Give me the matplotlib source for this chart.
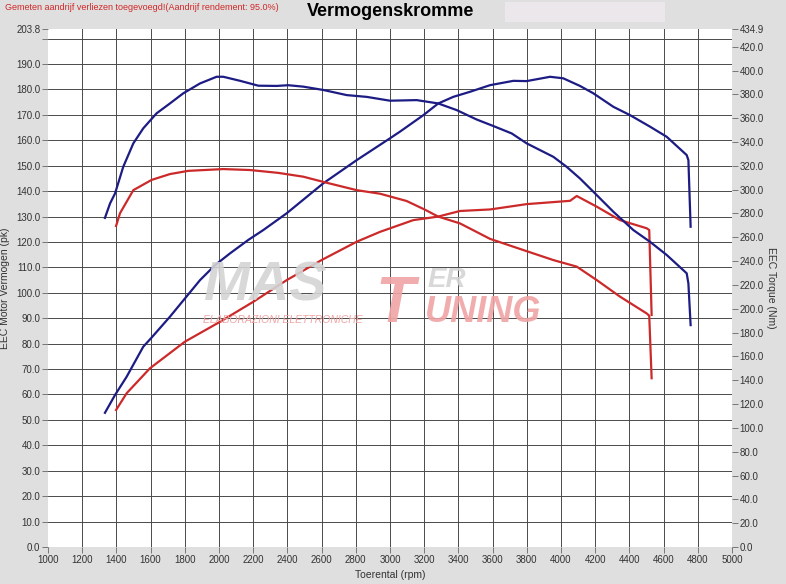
import matplotlib
matplotlib.use("Agg")
import matplotlib.pyplot as plt
from matplotlib.patches import Rectangle

plt.rcParams['font.family'] = ['Liberation Sans', 'DejaVu Sans']

# ---- data ----
rpm_power_tuned = [1333, 1392, 1460, 1557, 1602, 1713, 1801, 1889, 1977, 2064, 2171, 2259,
                   2396, 2610, 2805, 3000, 3058, 3195, 3282, 3370, 3468, 3585, 3721, 3799,
                   3936, 4013, 4111, 4189, 4306, 4404, 4520, 4618, 4735, 4745, 4758]
power_tuned = [52.8, 59.8, 67.0, 78.8, 82.1, 90.6, 97.8, 105.0, 110.9, 115.5, 120.8, 124.7,
               131.3, 143.1, 152.2, 160.8, 163.4, 169.9, 174.5, 177.1, 179.1, 181.7, 183.4, 183.3,
               185.0, 184.4, 181.4, 178.5, 173.2, 169.9, 165.4, 161.4, 154.2, 152.2, 126.0]

rpm_torque_tuned = [1333, 1363, 1392, 1440, 1499, 1557, 1635, 1713, 1791, 1889, 1986, 2025,
                    2123, 2230, 2337, 2405, 2493, 2610, 2747, 2864, 3000, 3156, 3282, 3390,
                    3507, 3605, 3712, 3799, 3955, 4033, 4111, 4189, 4306, 4423, 4520, 4618,
                    4735, 4745, 4758]
torque_tuned = [276.3, 288.5, 296.8, 319.2, 338.9, 351.5, 364.1, 372.4, 380.9, 389.2, 394.8, 394.8,
                391.4, 387.3, 387.1, 387.7, 386.5, 383.7, 379.4, 377.9, 374.7, 375.2, 372.4, 366.8,
                358.9, 353.4, 347.2, 338.9, 327.6, 319.2, 309.4, 298.3, 281.5, 266.1, 256.3, 245.2,
                229.8, 221.3, 186.3]

rpm_power_stock = [1398, 1460, 1596, 1801, 2006, 2201, 2396, 2600, 2805, 2942, 3136, 3282,
                   3409, 3585, 3799, 4053, 4092, 4209, 4345, 4501, 4516, 4530]
power_stock = [53.9, 60.5, 70.3, 80.8, 88.6, 96.5, 105.0, 112.9, 120.1, 124.0, 128.6, 130.0,
               132.2, 132.8, 134.9, 136.2, 138.1, 133.9, 128.6, 125.4, 124.7, 91.3]

rpm_torque_stock = [1398, 1421, 1499, 1606, 1713, 1820, 2025, 2181, 2347, 2493, 2630, 2805,
                    2942, 3097, 3200, 3282, 3409, 3585, 3780, 3955, 4092, 4209, 4345, 4501,
                    4516, 4530]
torque_stock = [269.5, 280.2, 299.6, 308.2, 313.1, 315.8, 317.3, 316.5, 314.1, 310.9, 305.8, 299.6,
                296.6, 290.5, 283.5, 277.4, 271.7, 258.7, 249.3, 240.9, 235.4, 224.1, 210.2, 196.1,
                194.2, 141.7]

x_ticks = list(range(1000, 5001, 200))
left_ticks = [v * 10 for v in range(0, 21)] + [203.8]
right_ticks = [v * 20 for v in range(0, 22)] + [434.9]

BLUE = '#1c1c84'
RED = '#cc2a2a'
BG = '#dfdfdf'
GRID = '#4a4a4a'
TXT = '#333333'

fig = plt.figure(figsize=(7.86, 5.84), dpi=100, facecolor=BG)
ax = fig.add_axes([48 / 786, 37 / 584, 684 / 786, 518 / 584])
ax.set_facecolor('white')
ax.set_xlim(1000, 5000)
ax.set_ylim(0, 203.8)
for s in ax.spines.values():
    s.set_visible(False)

# grid lines (interior only)
for v in range(10, 201, 10):
    ax.axhline(v, color=GRID, lw=0.7, zorder=1)
for x in range(1200, 4801, 200):
    ax.axvline(x, color=GRID, lw=0.7, zorder=1)

ax.set_xticks(x_ticks)
ax.set_xticklabels([str(x) for x in x_ticks])
ax.set_yticks(left_ticks)
ax.set_yticklabels(['' if v == 200 else f'{v:.1f}' for v in left_ticks])
ax.tick_params(axis='both', direction='out', length=4, width=0.6, color='#666666',
               labelsize=7, labelcolor=TXT, pad=1.5)

ax2 = ax.twinx()
ax2.set_ylim(0, 434.9)
ax2.patch.set_visible(False)
for s in ax2.spines.values():
    s.set_visible(False)
ax2.set_yticks(right_ticks)
ax2.set_yticklabels([f'{v:.1f}' for v in right_ticks])
ax2.tick_params(axis='y', direction='out', length=4, width=0.6, color='#666666',
                labelsize=7, labelcolor=TXT, pad=1.5)

# watermark (pixel-placed in figure coords)
def fx(px):
    return px / 786

def fy(py):
    return 1 - py / 584

fig.text(fx(203), fy(300), 'MAS', fontsize=40, fontweight='bold', fontstyle='italic',
         color='#d4d4d4', alpha=0.9, va='baseline', ha='left', zorder=2)
fig.text(fx(375), fy(322), 'T', fontsize=46, fontweight='bold', fontstyle='italic',
         color='#f0a4a4', alpha=0.9, va='baseline', ha='left', zorder=2)
fig.text(fx(428), fy(287), 'ER', fontsize=20, fontweight='bold', fontstyle='italic',
         color='#d4d4d4', alpha=0.9, va='baseline', ha='left', zorder=2)
fig.text(fx(425), fy(322), 'UNING', fontsize=26, fontweight='bold', fontstyle='italic',
         color='#f0a4a4', alpha=0.9, va='baseline', ha='left', zorder=2)
fig.text(fx(203), fy(323), 'ELABORAZIONI ELETTRONICHE', fontsize=7.5, fontstyle='italic',
         color='#f0a4a4', va='baseline', ha='left', zorder=2)

# curves
ax.plot(rpm_power_tuned, power_tuned, color=BLUE, lw=1.6, zorder=3)
ax.plot(rpm_power_stock, power_stock, color=RED, lw=1.6, zorder=3)
ax2.plot(rpm_torque_tuned, torque_tuned, color=BLUE, lw=1.6, zorder=3)
ax2.plot(rpm_torque_stock, torque_stock, color=RED, lw=1.6, zorder=3)
ax.set_zorder(1)
ax2.set_zorder(3)

# labels
ax.set_xlabel('Toerental (rpm)', fontsize=7.5, color=TXT, labelpad=4)
ax.set_ylabel('EEC Motor Vermogen (pk)', fontsize=7.5, color=TXT)
ax.yaxis.set_label_coords((10 - 48) / 684, 0.5)
ax2.set_ylabel('EEC Torque (Nm)', fontsize=7.5, color=TXT, rotation=270, va='center')
ax2.yaxis.set_label_coords((771 - 48) / 684, 0.5)

fig.patches.append(Rectangle((505 / 786, 1 - 22 / 584), 160 / 786, 20 / 584,
                             transform=fig.transFigure, facecolor='#ebe7eb',
                             edgecolor='none', zorder=0))
fig.text(391 / 786, 1 - 12 / 584, 'Vermogenskromme', fontsize=13, fontweight='bold',
         ha='center', va='center', color='black')
fig.text(5 / 786, 1 - 7 / 584, 'Gemeten aandrijf verliezen toegevoegd!(Aandrijf rendement: 95.0%)',
         fontsize=6.5, color='#d02828', ha='left', va='center')

fig.savefig('out.png', dpi=100, facecolor=BG)
